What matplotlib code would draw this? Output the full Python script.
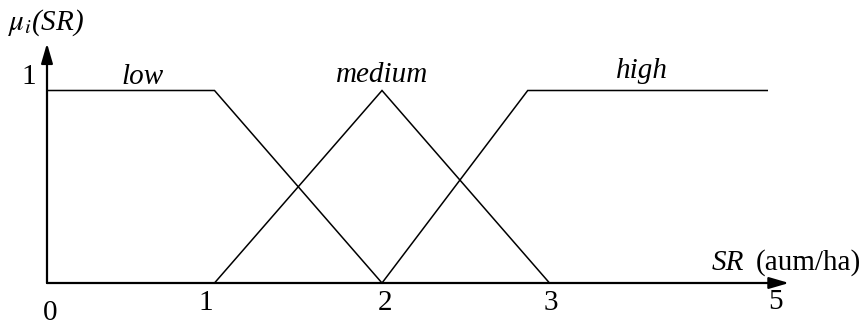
import matplotlib
matplotlib.use("Agg")
import matplotlib.pyplot as plt

# Membership function breakpoints (SR units) and membership values
low_x = [0.0, 1.0, 2.0]
low_y = [1.0, 1.0, 0.0]
medium_x = [1.0, 2.0, 3.0]
medium_y = [0.0, 1.0, 0.0]
high_x = [2.0, 2.87, 4.3]
high_y = [0.0, 1.0, 1.0]
set_names = ["low", "medium", "high"]
tick_values = [0, 1, 2, 3]
tick_labels = ["0", "1", "2", "3"]
axis_end_value = 4.43
axis_end_label = "5"

plt.rcParams['font.family'] = ['Liberation Serif', 'DejaVu Serif']

fig = plt.figure(figsize=(8.68, 3.26), dpi=100)
ax = fig.add_axes([0, 0, 1, 1])
ax.set_xlim(-47 / 167.5, (868 - 47) / 167.5)
ax.set_ylim(-43 / 192.5, (326 - 43) / 192.5)
ax.axis('off')

lw = 1.1
for xs, ys in [(low_x, low_y), (medium_x, medium_y), (high_x, high_y)]:
    ax.plot(xs, ys, color='black', lw=lw, solid_joinstyle='miter')

# axes with arrows
ax.annotate('', xy=(axis_end_value, 0), xytext=(0, 0),
            arrowprops=dict(arrowstyle='-|>,head_length=1.2,head_width=0.35',
                            color='black', lw=1.6, shrinkA=0, shrinkB=0))
ax.annotate('', xy=(0, 1.245), xytext=(0, 0),
            arrowprops=dict(arrowstyle='-|>,head_length=1.2,head_width=0.35',
                            color='black', lw=1.6, shrinkA=0, shrinkB=0))

fs = 21
for v, lab in zip(tick_values, tick_labels):
    dy = -0.105 if v != 0 else -0.155
    dx = -0.05 if v == 1 else (0.02 if v in (0, 2) else 0.01)
    ax.text(v + dx, dy, lab, ha='center', va='center', fontsize=fs)
ax.text(axis_end_value - 0.08, -0.10, axis_end_label, ha='center', va='center', fontsize=fs)

ax.text(-0.11, 1.07, "1", ha='center', va='center', fontsize=fs)
ax.text(-0.23, 1.35, r"$\mathit{\mu}_i$(SR)", ha='left', va='center', fontsize=fs, style='italic',
        math_fontfamily='stix')

ax.text(3.97, 0.105, "SR", ha='left', va='center', fontsize=fs, style='italic')
ax.text(4.23, 0.105, "(aum/ha)", ha='left', va='center', fontsize=fs)

label_x = [0.57, 2.0, 3.55]
label_y = [1.07, 1.08, 1.10]
for name, lx, ly in zip(set_names, label_x, label_y):
    ax.text(lx, ly, name, ha='center', va='center', fontsize=fs, style='italic')

fig.savefig("out.png", dpi=100)
